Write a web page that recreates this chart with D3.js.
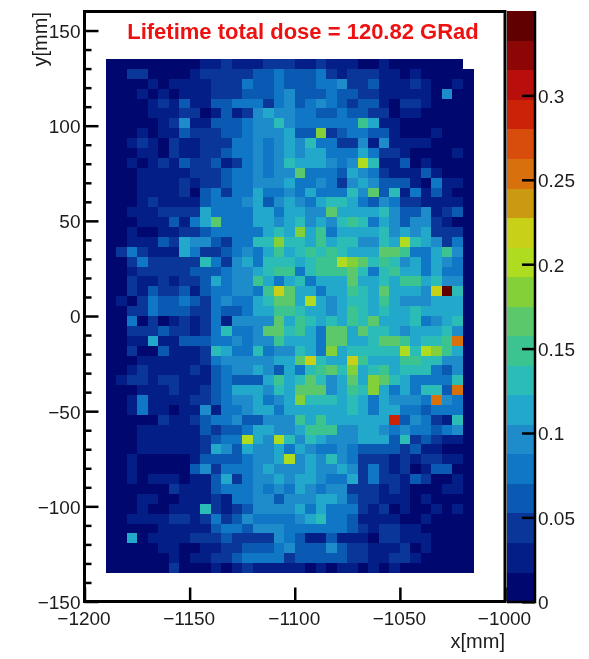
<!DOCTYPE html>
<html><head><meta charset="utf-8">
<script src="https://cdn.jsdelivr.net/npm/d3@7/dist/d3.min.js"></script>
<style>
html,body{margin:0;padding:0;background:#fff;}
svg{display:block;filter:blur(0.45px);}
text{font-family:"Liberation Sans",Arial,sans-serif;fill:#1c1c1c;}
</style></head><body><svg id="c" width="589" height="659"></svg>
<script>
const title = "Lifetime total dose = 120.82 GRad";
const xLabel = "x[mm]", yLabel = "y[mm]";
const xTicks = [-1200,-1150,-1100,-1050,-1000];
const yTicks = [-150,-100,-50,0,50,100,150];
const yMinor = d3.range(-150,160,10);
const zTicks = [0,0.05,0.1,0.15,0.2,0.25,0.3];
const zMax = 0.35;
const palette = ["#00086f","#041e88","#0a369a","#0a5ab4","#1076c6","#1e8cca","#22a8ca","#2bbcb8","#3cc490","#5cc86c","#84d038","#b0dc20","#c8d018","#cc9a10","#d8700c","#d84c0c","#cc2208","#b80e0c","#8c0606","#600000"];
// colour level of every 5 mm bin, one string per row from the top; "-" = empty bin
const rows = [
"000000000112111222"+"1121110010000000-",
"002200001222223343"+"33421222110100000",
"000010111122243343"+"33445223111210010",
"000101011122233345"+"33343322111110500",
"000012131133444245"+"34543233102210000",
"000011122013125655"+"44334332201100000",
"000001251133345575"+"44444486110000000",
"000101132223345556"+"33a23443310001000",
"001210211222445456"+"57442251511110000",
"000110211223445456"+"56644464221000010",
"001012132231245457"+"666545b7113010000",
"000111112223445455"+"94443654211131000",
"000111121223445556"+"44542565333104110",
"000111120342446445"+"46444759371413100",
"000121111344456356"+"54677643542211110",
"001112222644446646"+"65596666753351230",
"000111314694446656"+"75657874653552100",
"001001122344444676"+"a6846666756562220",
"0011132655324477a7"+"7686775576b765240",
"024211164223454686"+"78787666998446850",
"002422222742564777"+"6788ba97875646540",
"001222223334556788"+"47888974786646440",
"002112122364558646"+"74666966768867550",
"0021322313445548c9"+"6646687696665cj70",
"010243343245446799"+"6b656776865556660",
"002243332243346688"+"76656876766766660",
"004020121241555596"+"87676879666745670",
"002223221247445997"+"86499697765666750",
"001161133344545586"+"664996679986778e0",
"002003111276447455"+"764a677777b7ba860",
"000111111245555566"+"9c766c86668877550",
"001211112134556536"+"47897a67867774350",
"012212211134333686"+"7975696a976444470",
"000111211234666576"+"9995687a6464773e0",
"001411112234556456"+"a777676465554e540",
"001411011514456646"+"66666764664434440",
"000002112344533555"+"868666666g3542170",
"000111111323346655"+"68885566545443450",
"0001111112344b65b7"+"57655566637232110",
"000111111265365564"+"65445433332311000",
"00100000133334556b"+"56575422212122110",
"001000003524445655"+"56556524212013300",
"001011101136245565"+"66544624221320010",
"000000211134445454"+"65455222121000110",
"000110011121445535"+"55665322111010000",
"000100111721235555"+"64644421201001010",
"001111221242354444"+"56744311110010000",
"000001111134435554"+"44444321221100000",
"006011112223222254"+"31131110221110000",
"000001100112233345"+"33353221112010000",
"000000101122344442"+"33333221122100000",
"000000200010121111"+"10101101010000000"
];
const xStart=-1190, binW=5, yTop=135, nRows=rows.length, binH=270/nRows;
const levelW = zMax/palette.length;
const cells=[];
rows.forEach((r,j)=>{[...r].forEach((c,i)=>{ if(c==="-")return;
  cells.push({x:xStart+i*binW, y:yTop-j*binH, v:(parseInt(c,20)+0.5)*levelW}); });});

const svg=d3.select("#c");
const L=84.5,R=505,T=11.5,B=601.5;
const x=d3.scaleLinear([-1200,-1000],[L,R]);
const y=d3.scaleLinear([-150,160],[B,T]);
const z=d3.scaleQuantize([0,zMax],palette);
const zy=d3.scaleLinear([0,zMax],[601.8,11]);

svg.append("g").attr("shape-rendering","crispEdges").selectAll("rect").data(cells).join("rect")
 .attr("x",d=>x(d.x)).attr("y",d=>y(d.y))
 .attr("width",x(binW)-x(0)+0.3).attr("height",y(0)-y(binH)+0.3)
 .attr("fill",d=>z(d.v));

// colour bar
svg.append("g").attr("shape-rendering","crispEdges").selectAll("rect").data(palette).join("rect")
 .attr("x",507).attr("width",28)
 .attr("y",(d,i)=>zy((i+1)*levelW)).attr("height",zy(0)-zy(levelW)+0.3)
 .attr("fill",d=>d);

const fmt=d=>String(d).replace("-","\u2212");
function style(g,w){g.select(".domain").remove();g.selectAll("line").attr("stroke","#000").attr("stroke-width",w);
 g.selectAll("text").style("font-size","19px");}
const gx=svg.append("g").attr("transform",`translate(0,${B})`)
 .call(d3.axisBottom(x).tickValues(xTicks).tickSize(-14).tickPadding(0).tickFormat(fmt));
style(gx,2.5); gx.selectAll("text").attr("y",10).attr("dy","0.71em").attr("dx",-1);
const gyMinor=svg.append("g").attr("transform",`translate(${L},0)`)
 .call(d3.axisLeft(y).tickValues(yMinor.filter(v=>!yTicks.includes(v))).tickSize(-7).tickFormat(""));
style(gyMinor,2.5);
const gy=svg.append("g").attr("transform",`translate(${L},0)`)
 .call(d3.axisLeft(y).tickValues(yTicks).tickSize(-14).tickPadding(0).tickFormat(fmt));
style(gy,2.5); gy.selectAll("text").attr("x",-4).attr("dy","0.36em");
const gz=svg.append("g").attr("transform","translate(535,0)")
 .call(d3.axisRight(zy).tickValues(zTicks).tickSize(-13).tickPadding(0).tickFormat(d=>d));
style(gz,2.5); gz.selectAll("text").attr("x",3).attr("dy","0.36em");

// frame
svg.append("path").attr("fill","none").attr("stroke","#000").attr("stroke-width",3)
 .attr("d",`M${L},${T}H${R}V${B}H${L}Z`);
svg.append("path").attr("fill","none").attr("stroke","#000").attr("stroke-width",2.5)
 .attr("d",`M535,11V602H507`);

svg.append("text").attr("x",303).attr("y",39).attr("text-anchor","middle")
 .style("font-size","22px").style("font-weight","bold").style("fill","#ee1111").text(title);
svg.append("text").attr("x",505).attr("y",648).attr("text-anchor","end").style("font-size","20px").text(xLabel);
svg.append("text").attr("transform","translate(47,12) rotate(-90)").attr("text-anchor","end").style("font-size","20px").text(yLabel);
</script></body></html>
